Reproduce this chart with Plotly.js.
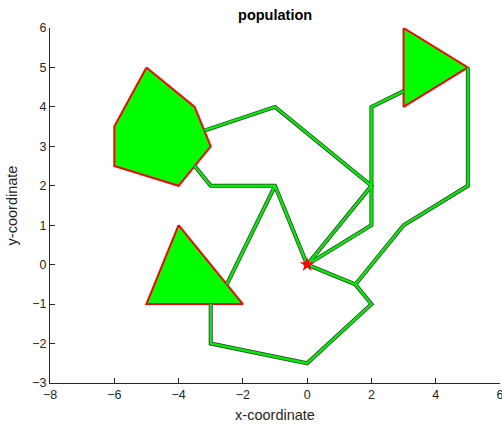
<!DOCTYPE html>
<html><head><meta charset="utf-8">
<script src="https://cdn.plot.ly/plotly-3.0.1.min.js"></script>
<style>html,body{margin:0;padding:0;background:#fff}#c{width:502px;height:432px}</style>
</head><body><div id="c"></div>
<script>
// Obstacles / regions (vertices)
const pentX = [-5, -3.5, -3, -4, -6, -6, -5];
const pentY = [5, 4, 3, 2, 2.5, 3.5, 5];
const tri1X = [-4, -2, -5, -4];
const tri1Y = [1, -1, -1, 1];
const tri2X = [3, 5, 3, 3];
const tri2Y = [6, 5, 4, 6];
// Connecting paths
const pathAX = [-3.2, -1, 2, 0];
const pathAY = [3.4, 4, 2, 0];
const pathBX = [0, 2, 2, 3];
const pathBY = [0, 1, 4, 4.4];
const pathCX = [0, 1.5, 2, 0, -3, -3];
const pathCY = [0, -0.5, -1, -2.5, -2, -1];
const pathDX = [1.5, 3, 5, 5];
const pathDY = [-0.5, 1, 2, 5];
const pathEX = [-3.5, -3, -1, 0];
const pathEY = [2.5, 2, 2, 0];
const pathFX = [-1, -2.5];
const pathFY = [2, -0.5];
// Start point
const startX = [0];
const startY = [0];

const traces = [];
[[pentX, pentY], [tri1X, tri1Y], [tri2X, tri2Y]].forEach(([x, y]) => {
  traces.push({x, y, mode: 'lines', fill: 'toself', fillcolor: '#00ff00',
    line: {color: '#ff0000', width: 2}, hoverinfo: 'skip', showlegend: false});
});
const paths = [[pathAX, pathAY], [pathBX, pathBY], [pathCX, pathCY], [pathDX, pathDY], [pathEX, pathEY], [pathFX, pathFY]];
paths.forEach(([x, y]) => {
  traces.push({x, y, mode: 'lines', line: {color: '#333333', width: 4}, showlegend: false, hoverinfo: 'skip'});
});
paths.forEach(([x, y]) => {
  traces.push({x, y, mode: 'lines', line: {color: '#00ee00', width: 2.5}, showlegend: false, hoverinfo: 'skip'});
});
traces.push({x: startX, y: startY, mode: 'markers', marker: {symbol: 'star', size: 11, color: '#ff0000'}, showlegend: false});

const axisBase = {
  showgrid: false, zeroline: false, showline: true, linecolor: '#262626', linewidth: 1,
  ticks: 'inside', ticklen: 5, tickcolor: '#262626', tickwidth: 1,
  tickfont: {family: 'Liberation Sans, Arial, sans-serif', size: 12.5, color: '#262626'},
  ticklabeloverflow: 'allow', mirror: false
};
const layout = {
  width: 502, height: 432,
  margin: {l: 50, r: 2, t: 28, b: 49},
  paper_bgcolor: '#ffffff', plot_bgcolor: '#ffffff',
  title: {text: '<b>population</b>', x: 0.548, xref: 'container', y: 0.965, yref: 'container', yanchor: 'middle',
    font: {family: 'Liberation Sans, Arial, sans-serif', size: 14.5, color: '#000000'}},
  xaxis: Object.assign({}, axisBase, {range: [-8, 6], tickvals: [-8, -6, -4, -2, 0, 2, 4, 6],
    title: {text: 'x-coordinate', standoff: 8, font: {family: 'Liberation Sans, Arial, sans-serif', size: 14.5, color: '#262626'}}}),
  yaxis: Object.assign({}, axisBase, {range: [-3, 6], tickvals: [-3, -2, -1, 0, 1, 2, 3, 4, 5, 6],
    title: {text: 'y-coordinate', standoff: 11, font: {family: 'Liberation Sans, Arial, sans-serif', size: 14.5, color: '#262626'}}}),
};
Plotly.newPlot('c', traces, layout, {displayModeBar: false, staticPlot: true});
</script></body></html>
